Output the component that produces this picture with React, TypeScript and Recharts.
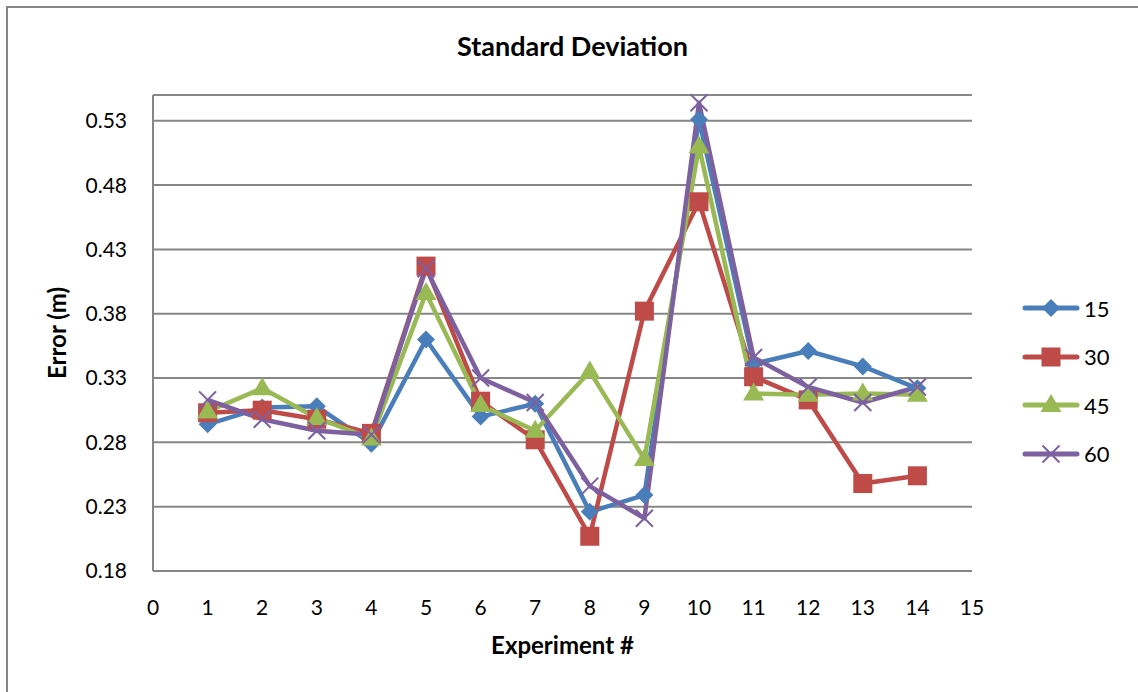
import React from "react"
import { LineChart, Line, XAxis, YAxis, CartesianGrid, Legend } from "recharts"

const experiments = [1, 2, 3, 4, 5, 6, 7, 8, 9, 10, 11, 12, 13, 14]
const err15 = [0.294, 0.307, 0.308, 0.279, 0.36, 0.3, 0.31, 0.226, 0.239, 0.531, 0.341, 0.351, 0.339, 0.322]
const err30 = [0.303, 0.305, 0.298, 0.287, 0.417, 0.312, 0.282, 0.207, 0.382, 0.467, 0.331, 0.313, 0.248, 0.254]
const err45 = [0.304, 0.322, 0.299, 0.283, 0.396, 0.309, 0.289, 0.335, 0.267, 0.51, 0.318, 0.317, 0.318, 0.317]
const err60 = [0.313, 0.298, 0.289, 0.286, 0.415, 0.33, 0.311, 0.246, 0.221, 0.544, 0.346, 0.323, 0.311, 0.323]
const xTicks = [0, 1, 2, 3, 4, 5, 6, 7, 8, 9, 10, 11, 12, 13, 14, 15]
const yTicks = [0.18, 0.23, 0.28, 0.33, 0.38, 0.43, 0.48, 0.53]

const data = experiments.map((x, i) => ({
    x,
    s15: err15[i],
    s30: err30[i],
    s45: err45[i],
    s60: err60[i],
}))

const FONT = "Lato, 'Open Sans', sans-serif"
const GRID = "#868686"

type Shape = "diamond" | "square" | "triangle" | "cross"

function Marker({ shape, cx, cy, color }: { shape: Shape; cx: number; cy: number; color: string }) {
    if (shape === "diamond") {
        const r = 9
        return <polygon points={`${cx},${cy - r} ${cx + r},${cy} ${cx},${cy + r} ${cx - r},${cy}`} fill={color} />
    }
    if (shape === "square") {
        const h = 9.5
        return <rect x={cx - h} y={cy - h} width={h * 2} height={h * 2} fill={color} />
    }
    if (shape === "triangle") {
        return <polygon points={`${cx},${cy - 11} ${cx + 10.5},${cy + 7} ${cx - 10.5},${cy + 7}`} fill={color} />
    }
    const r = 8.5
    return (
        <g stroke={color} strokeWidth={2}>
            <line x1={cx - r} y1={cy - r} x2={cx + r} y2={cy + r} />
            <line x1={cx - r} y1={cy + r} x2={cx + r} y2={cy - r} />
        </g>
    )
}

const SERIES: { key: string; name: string; color: string; shape: Shape }[] = [
    { key: "s15", name: "15", color: "#4A7EBB", shape: "diamond" },
    { key: "s30", name: "30", color: "#BE4B48", shape: "square" },
    { key: "s45", name: "45", color: "#98B954", shape: "triangle" },
    { key: "s60", name: "60", color: "#7D60A0", shape: "cross" },
]

function LegendBox() {
    return (
        <div style={{ fontFamily: FONT }}>
            {SERIES.map((s) => (
                <div key={s.key} style={{ display: "flex", alignItems: "center", height: 48.5 }}>
                    <svg width={60} height={24}>
                        <line x1={3} y1={12} x2={55} y2={12} stroke={s.color} strokeWidth={5} strokeLinecap="round" />
                        <Marker shape={s.shape} cx={29} cy={12} color={s.color} />
                    </svg>
                    <span style={{ fontSize: 22, color: "#000", marginLeft: 2 }}>{s.name}</span>
                </div>
            ))}
        </div>
    )
}

export default function App() {
    return (
        <div
            style={{
                position: "absolute",
                left: 0,
                top: 0,
                width: 1138,
                height: 692,
                overflow: "hidden",
                background: "#fff",
            }}
        >
            <div
                style={{
                    position: "absolute",
                    left: 6,
                    top: 6,
                    width: 1200,
                    height: 800,
                    border: `2px solid ${GRID}`,
                }}
            />
            <div
                style={{
                    position: "absolute",
                    left: 0,
                    width: 1145,
                    top: 32,
                    textAlign: "center",
                    fontFamily: FONT,
                    fontWeight: 700,
                    fontSize: 27,
                    lineHeight: "27px",
                    color: "#000",
                }}
            >
                Standard Deviation
            </div>
            <div style={{ position: "absolute", left: 0, top: 0 }}>
                <LineChart width={1138} height={692} data={data} margin={{ top: 95, right: 166, left: 95, bottom: 31 }}>
                    <CartesianGrid vertical={false} stroke={GRID} strokeWidth={2} />
                    <XAxis
                        dataKey="x"
                        type="number"
                        domain={[0, 15]}
                        ticks={xTicks}
                        interval={0}
                        height={90}
                        tickSize={0}
                        tickMargin={29}
                        axisLine={{ stroke: GRID, strokeWidth: 2 }}
                        tick={{ fontSize: 21, fill: "#000", fontFamily: FONT }}
                        label={{
                            value: "Experiment #",
                            position: "insideBottom",
                            offset: 7,
                            style: { fontSize: 24, fontWeight: 700, fill: "#000", fontFamily: FONT },
                        }}
                    />
                    <YAxis
                        type="number"
                        domain={[0.18, 0.55]}
                        ticks={yTicks}
                        interval={0}
                        width={58}
                        tickSize={0}
                        tickMargin={26}
                        axisLine={{ stroke: GRID, strokeWidth: 2 }}
                        tickFormatter={(v: number) => v.toFixed(2)}
                        tick={{ fontSize: 21, fill: "#000", fontFamily: FONT }}
                        label={{
                            value: "Error (m)",
                            angle: -90,
                            position: "insideLeft",
                            offset: -38,
                            style: { fontSize: 24, fontWeight: 700, fill: "#000", fontFamily: FONT, textAnchor: "middle" },
                        }}
                    />
                    <Legend
                        layout="horizontal"
                        verticalAlign="middle"
                        align="center"
                        content={() => <LegendBox />}
                        wrapperStyle={{ left: 1022, top: 284, width: 110 }}
                    />
                    {SERIES.map((s) => (
                        <Line
                            key={s.key}
                            type="linear"
                            dataKey={s.key}
                            name={s.name}
                            stroke={s.color}
                            strokeWidth={4.5}
                            strokeLinejoin="round"
                            isAnimationActive={false}
                            dot={(p: any) => <Marker key={`${s.key}-${p.index}`} shape={s.shape} cx={p.cx} cy={p.cy} color={s.color} />}
                            activeDot={false}
                        />
                    ))}
                </LineChart>
            </div>
        </div>
    )
}
